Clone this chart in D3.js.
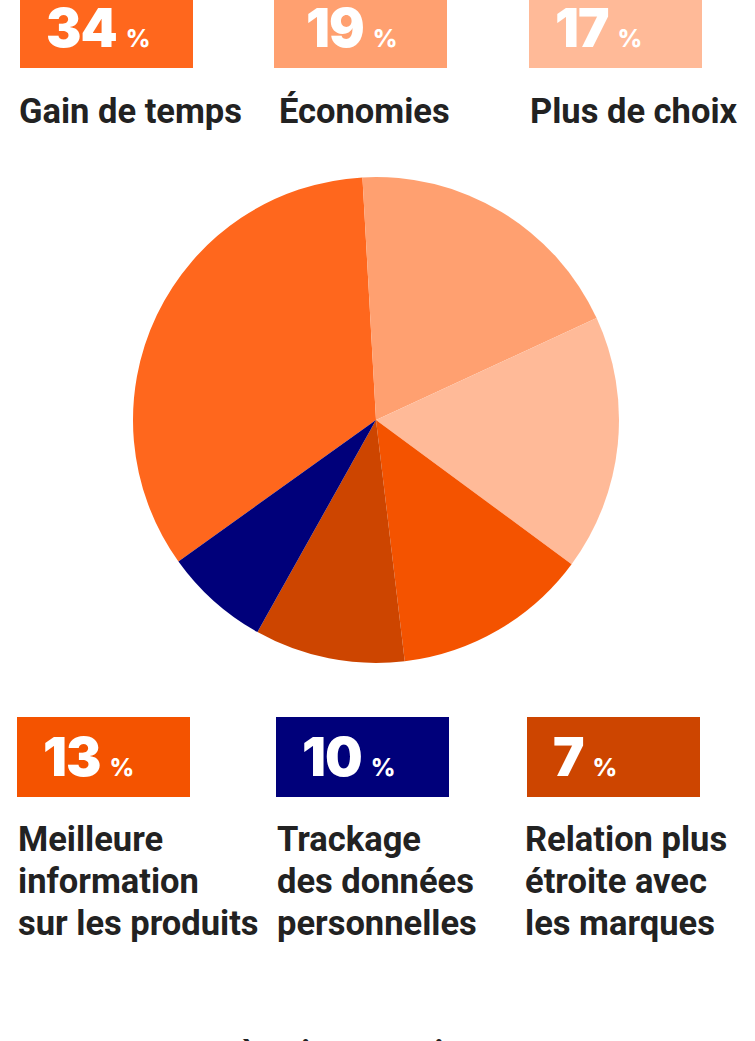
<!DOCTYPE html>
<html lang="fr">
<head>
<meta charset="utf-8">
<script src="https://cdn.jsdelivr.net/npm/d3@7"></script>
<style>
  html, body { margin: 0; padding: 0; background: #fff; }
  svg { display: block; }
</style>
</head>
<body>
<svg id="chart" width="755" height="1041"></svg>
<script>
// Réponses : avantages perçus (en %)
const categories = [
  "Gain de temps",
  "Économies",
  "Plus de choix",
  "Meilleure information sur les produits",
  "Trackage des données personnelles",
  "Relation plus étroite avec les marques"
];
const labelLines = [
  ["Gain de temps"],
  ["Économies"],
  ["Plus de choix"],
  ["Meilleure", "information", "sur les produits"],
  ["Trackage", "des données", "personnelles"],
  ["Relation plus", "étroite avec", "les marques"]
];
const values = [34, 19, 17, 13, 10, 7];
const boxColors = ["#ff671d", "#ffa070", "#ffba98", "#f45300", "#00007a", "#cd4500"];
// palette des parts, appliquée dans l'ordre décroissant des valeurs
const sliceColors = ["#ff671d", "#ffa070", "#ffba98", "#f45300", "#cd4500", "#00007a"];

const svg = d3.select("#chart");
const W = 755, H = 1041;
svg.append("rect").attr("width", W).attr("height", H).attr("fill", "#fff");

// ---- Camembert ----
const cx = 376, cy = 420, R = 243;
const start = -125.6 * Math.PI / 180;
const pie = d3.pie()
  .value(d => d)
  .sort((a, b) => b - a)
  .startAngle(start)
  .endAngle(start + 2 * Math.PI);
const arc = d3.arc().innerRadius(0).outerRadius(R);
const arcs = pie(values);
svg.append("g")
  .attr("transform", `translate(${cx},${cy})`)
  .selectAll("path")
  .data(arcs)
  .join("path")
  .attr("d", arc)
  .attr("fill", (d, i) => sliceColors[i]);

// ---- Cartouches de valeurs et libellés ----
const cols = [[20, 274, 529], [17, 276, 527]];
const labelCols = [[19, 279, 530], [18, 277, 525]];
const numOffset = [[26, 32, 26], [26, 26, 26]];
const boxTop = [-12, 717];
const labelBase = [123, 851];
const boxW = 173, boxH = 80, lineH = 42;

values.forEach((v, i) => {
  const row = Math.floor(i / 3), col = i % 3;
  const x = cols[row][col], y = boxTop[row];
  const lx = labelCols[row][col];
  const g = svg.append("g");
  g.append("rect")
    .attr("x", x).attr("y", y)
    .attr("width", boxW).attr("height", boxH)
    .attr("fill", boxColors[i]);
  const t = g.append("text")
    .attr("x", x + numOffset[row][col])
    .attr("y", y + 59)
    .attr("fill", "#fff")
    .style("font-family", "Inter, 'Open Sans', sans-serif");
  t.append("tspan")
    .style("font-size", "53px")
    .style("font-weight", 900)
    .style("letter-spacing", "-1px")
    .text(v);
  t.append("tspan")
    .attr("dx", 9)
    .style("font-size", "24px")
    .style("font-weight", 800)
    .text("%");

  const lbl = g.append("text")
    .attr("x", lx)
    .attr("y", labelBase[row])
    .attr("fill", "#222")
    .style("font-family", "Roboto, sans-serif")
    .style("font-weight", 700)
    .style("font-size", "34.5px");
  labelLines[i].forEach((line, k) => {
    lbl.append("tspan")
      .attr("x", lx)
      .attr("y", labelBase[row] + k * lineH)
      .text(line);
  });
});

// ---- Ligne suivante (hors cadre) ----
svg.append("text")
  .attr("x", 240)
  .attr("y", 1064)
  .attr("fill", "#222")
  .style("font-family", "Roboto, sans-serif")
  .style("font-weight", 700)
  .style("font-size", "33px")
  .text("à suivre aussi");
</script>
</body>
</html>
